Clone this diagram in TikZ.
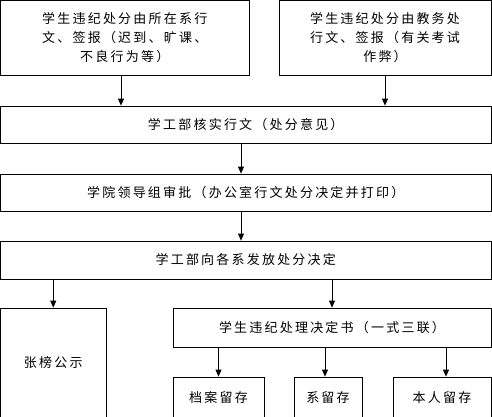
\documentclass[tikz,border=0pt]{standalone}
\usepackage{fontspec}
\newfontfamily\cjk[LetterSpace=17]{Noto Sans CJK SC}
\usetikzlibrary{arrows.meta}

\begin{document}
\begin{tikzpicture}[x=1pt,y=-1pt,
    box/.style={draw,line width=0.8pt,inner sep=0pt,align=center,
        font=\cjk\fontsize{13pt}{19pt}\selectfont},
    flow/.style={line width=0.8pt,-{Triangle[length=7pt,width=6pt]}}]
    \useasboundingbox (0,0) rectangle (492,416);
    \clip (0,0) rectangle (492,416);

    % reports
    \node [box,minimum width=248.5pt,minimum height=74.5pt](B1) at (124.75,37.75)
        {学生违纪处分由所在系行\\文、签报（迟到、旷课、\\不良行为等）};
    \node [box,minimum width=212pt,minimum height=74.5pt](B2) at (385,37.75)
        {学生违纪处分由教务处\\行文、签报（有关考试\\作弊）};
    \node [box,minimum width=490.5pt,minimum height=37pt](B3) at (245.75,124.5)
        {学工部核实行文（处分意见）};
    \node [box,minimum width=490.5pt,minimum height=37pt](B4) at (245.75,192.5)
        {学院领导组审批（办公室行文处分决定并打印）};
    \node [box,minimum width=490.5pt,minimum height=38pt](B5) at (245.75,260)
        {学工部向各系发放处分决定};

    % results
    \node [box,minimum width=105.5pt,minimum height=109pt](B6) at (53.25,362.5)
        {张榜公示};
    \node [box,minimum width=318pt,minimum height=39pt](B7) at (332,327.5)
        {学生违纪处理决定书（一式三联）};
    \node [box,minimum width=91pt,minimum height=41pt](B8) at (218.5,397.5)
        {档案留存};
    \node [box,minimum width=68pt,minimum height=41pt](B9) at (328,397.5)
        {系留存};
    \node [box,minimum width=98pt,minimum height=41pt](B10) at (442,397.5)
        {本人留存};

    \draw[flow] ([xshift=-3.75pt]B1.south) -- ([xshift=-3.75pt]B1.south |- B3.north);
    \draw[flow] (B2.south) -- (B2.south |- B3.north);
    \draw[flow] ([xshift=-4.75pt]B3.south) -- ([xshift=-4.75pt]B3.south |- B4.north);
    \draw[flow] ([xshift=-4.75pt]B4.south) -- ([xshift=-4.75pt]B4.south |- B5.north);
    \draw[flow] (B6.north |- B5.south) -- (B6.north);
    \draw[flow] (B7.north |- B5.south) -- (B7.north);
    \draw[flow] (B8.north |- B7.south) -- (B8.north);
    \draw[flow] ([xshift=-3pt]B9.north |- B7.south) -- ([xshift=-3pt]B9.north);
    \draw[flow] ([xshift=4pt]B10.north |- B7.south) -- ([xshift=4pt]B10.north);
\end{tikzpicture}
\end{document}
